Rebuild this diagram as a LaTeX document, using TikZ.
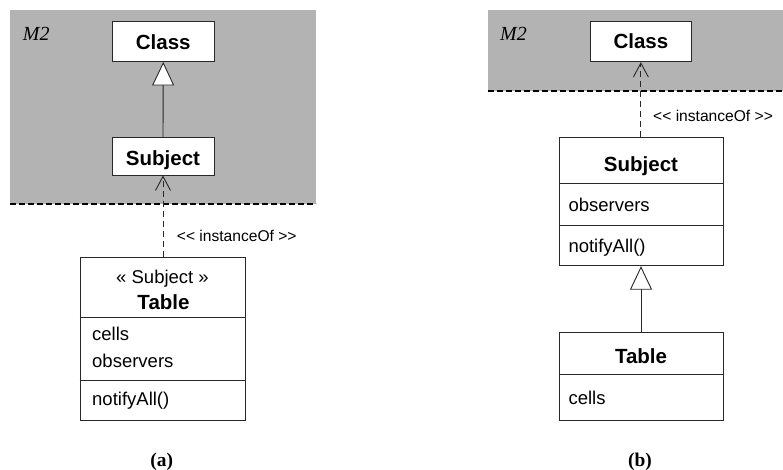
\documentclass[tikz,border=0pt]{standalone}
\usepackage{fontspec}
\setmainfont{Liberation Sans}
\newfontfamily\captionfont{Liberation Serif}
\usetikzlibrary{arrows.meta}

\definecolor{metabg}{RGB}{179,179,179}
\definecolor{edge}{RGB}{40,40,40}

\tikzset{
  classbox/.style={draw=edge, line width=0.9pt, fill=white, inner sep=0pt, rectangle},
  namebold/.style={font=\fontsize{20.5}{24}\selectfont\bfseries, anchor=base, inner sep=0pt},
  member/.style={font=\fontsize{18.5}{22}\selectfont, anchor=base west, inner sep=0pt},
  stereo/.style={font=\fontsize{18.5}{22}\selectfont, anchor=base, inner sep=0pt},
  deplabel/.style={font=\fontsize{15.6}{18}\selectfont, anchor=base west, inner sep=0pt},
  levellabel/.style={font=\captionfont\itshape\fontsize{20}{24}\selectfont, anchor=base west, inner sep=0pt},
  sublabel/.style={font=\captionfont\bfseries\fontsize{19.4}{23}\selectfont, anchor=base, inner sep=0pt},
  divider/.style={draw=edge, line width=0.9pt},
  gen/.style={draw=edge, line width=0.9pt, -{Triangle[open, length=23.5pt, width=22pt, fill=white]}},
  dep/.style={draw=edge, line width=0.9pt, dash pattern=on 6pt off 4pt,
    -{Straight Barb[length=14pt, width=15pt]}},
  boundary/.style={line width=1.8pt, dash pattern=on 6pt off 3pt},
}

\begin{document}
\begin{tikzpicture}[x=1pt, y=-1pt]
\useasboundingbox (0,0) rectangle (783,469);

% ---------- (a): stereotype applied to Table ----------
\fill[metabg] (10,10) rectangle (316,204);
\coordinate (la1) at (10,204);
\coordinate (la2) at (316,204);
\draw[boundary] (la1) -- (la2);
\node[levellabel] (lm2) at (22.7,40.7) {M2};

\node[classbox, minimum width=101.5pt, minimum height=40pt] (lclass) at (163.25,41.5) {};
\node[namebold] (lclassname) at (163.25,49) {Class};

\node[classbox, minimum width=102pt, minimum height=37.5pt] (lsubj) at (163,156.25) {};
\node[namebold] (lsubjname) at (163,165) {Subject};

\node[classbox, minimum width=165pt, minimum height=163.4pt] (ltable) at (162.5,339) {};
\node[stereo] (lstereo) at (162.5,283.3) {« Subject »};
\node[namebold] (ltablename) at (163.5,309) {Table};
\draw[divider] (ltable.west |- 0,317.7) -- (ltable.east |- 0,317.7);
\draw[divider] (ltable.west |- 0,380.3) -- (ltable.east |- 0,380.3);
\node[member] (lcells) at (92,340.7) {cells};
\node[member] (lobs) at (92,367.3) {observers};
\node[member] (lnotify) at (92,405.7) {notifyAll()};

\draw[gen] (lsubj.north) -- (lclass.south);
\draw[dep] (lsubj.south |- ltable.north) -- (lsubj.south);
\node[deplabel] (linst) at (176.7,241) {{<}{<} instanceOf {>}{>}};

\node[sublabel] (capa) at (161.7,466) {(a)};

% ---------- (b): Table specialises the model class Subject ----------
\fill[metabg] (487.7,10) rectangle (783,90.7);
\coordinate (rb1) at (487.7,91);
\coordinate (rb2) at (783,91);
\draw[boundary] (rb1) -- (rb2);
\node[levellabel] (rm2) at (500,40) {M2};

\node[classbox, minimum width=101.7pt, minimum height=40.2pt] (rclass) at (640.85,41.6) {};
\node[namebold] (rclassname) at (640.85,48.7) {Class};

\node[classbox, minimum width=164pt, minimum height=128.7pt] (rsubj) at (641,201.35) {};
\node[namebold] (rsubjname) at (641,171) {Subject};
\draw[divider] (rsubj.west |- 0,183) -- (rsubj.east |- 0,183);
\draw[divider] (rsubj.west |- 0,225.7) -- (rsubj.east |- 0,225.7);
\node[member] (robs) at (568.3,211.7) {observers};
\node[member] (rnotify) at (568.3,252.5) {notifyAll()};

\node[classbox, minimum width=164pt, minimum height=88.7pt] (rtable) at (641,376.35) {};
\node[namebold] (rtablename) at (641,363.3) {Table};
\draw[divider] (rtable.west |- 0,374.3) -- (rtable.east |- 0,374.3);
\node[member] (rcells) at (568.3,404) {cells};

\draw[dep] (rclass.south |- rsubj.north) -- (rclass.south);
\draw[gen] (rtable.north) -- (rsubj.south);
\node[deplabel] (rinst) at (653,121.7) {{<}{<} instanceOf {>}{>}};

\node[sublabel] (capb) at (640,466) {(b)};
\end{tikzpicture}
\end{document}
